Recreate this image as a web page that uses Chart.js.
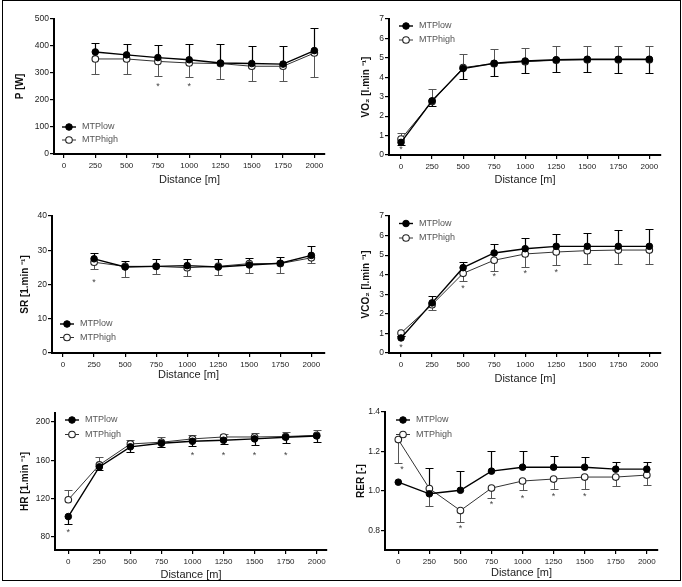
<!DOCTYPE html>
<html><head><meta charset="utf-8">
<script src="https://cdn.jsdelivr.net/npm/chart.js@4.4.1/dist/chart.umd.min.js"></script>
<style>
html,body{margin:0;padding:0;background:#fff;}
#wrap{position:relative;width:682px;height:587px;overflow:hidden;background:#fff;}
canvas{position:absolute;}
#frame{position:absolute;left:2px;top:0;width:677px;height:579px;border:1px solid #000;pointer-events:none;}
</style></head><body><div id="wrap">
<canvas id="c1"></canvas><canvas id="c2"></canvas><canvas id="c3"></canvas>
<canvas id="c4"></canvas><canvas id="c5"></canvas><canvas id="c6"></canvas>
<div id="frame"></div>
</div>
<script>
// ---------- DATA ----------
const seriesNames = ['MTPlow', 'MTPhigh'];
const distanceFull = [0, 250, 500, 750, 1000, 1250, 1500, 1750, 2000];
const distanceFrom250 = [250, 500, 750, 1000, 1250, 1500, 1750, 2000];
const xTicks = [0, 250, 500, 750, 1000, 1250, 1500, 1750, 2000];

// P [W]
const P_low = [378, 367, 357, 349, 337, 335, 333, 383];
const P_high = [352, 352, 343, 337, 335, 325, 325, 374];
const P_lowSD = [33, 40, 48, 60, 72, 65, 67, 84];
const P_highSD = [56, 56, 54, 53, 57, 53, 53, 90];
const P_sigX = [750, 1000];
const P_sigY = [257, 257];
const P_yTicks = [0, 100, 200, 300, 400, 500];

// VO2 [l.min-1]
const VO2_low = [0.65, 2.79, 4.45, 4.72, 4.84, 4.90, 4.93, 4.93, 4.93];
const VO2_high = [0.82, 2.75, 4.50, 4.70, 4.80, 4.88, 4.90, 4.90, 4.90];
const VO2_lowSD = [0.15, 0.27, 0.55, 0.67, 0.64, 0.62, 0.65, 0.73, 0.73];
const VO2_highSD = [0.32, 0.63, 0.70, 0.75, 0.70, 0.71, 0.69, 0.69, 0.69];
const VO2_sigX = [0];
const VO2_sigY = [0.36];
const VO2_yTicks = [0, 1, 2, 3, 4, 5, 6, 7];

// SR [1.min-1]
const SR_low = [27.5, 25.1, 25.3, 25.5, 25.1, 25.7, 26.2, 28.5];
const SR_high = [26.5, 25.3, 25.3, 24.9, 25.3, 26.1, 26.1, 27.8];
const SR_lowSD = [1.7, 1.7, 2.2, 2.0, 2.4, 2.1, 1.8, 2.8];
const SR_highSD = [2.0, 3.0, 2.2, 2.4, 2.5, 2.6, 2.7, 1.5];
const SR_sigX = [250];
const SR_sigY = [21.3];
const SR_yTicks = [0, 10, 20, 30, 40];

// VCO2 [l.min-1]
const VCO2_low = [0.77, 2.56, 4.36, 5.11, 5.33, 5.45, 5.45, 5.45, 5.45];
const VCO2_high = [1.02, 2.47, 4.07, 4.74, 5.06, 5.16, 5.23, 5.26, 5.26];
const VCO2_lowSD = [0.10, 0.34, 0.31, 0.44, 0.56, 0.65, 0.68, 0.82, 0.87];
const VCO2_highSD = [0.15, 0.26, 0.41, 0.53, 0.66, 0.65, 0.70, 0.73, 0.73];
const VCO2_sigX = [0, 500, 750, 1000, 1250];
const VCO2_sigY = [0.38, 3.38, 4.0, 4.14, 4.24];
const VCO2_yTicks = [0, 1, 2, 3, 4, 5, 6, 7];

// HR [1.min-1]
const HR_low = [101, 153, 174, 177.7, 179.8, 180.9, 182.3, 184, 185.4];
const HR_high = [118.6, 155.1, 177, 178.8, 182.3, 184.3, 184.3, 184.8, 186];
const HR_lowSD = [7.4, 3.4, 5, 4.1, 4.8, 3.9, 6, 6.3, 6.3];
const HR_highSD = [9.7, 8.4, 4.2, 5.5, 3.7, 3.2, 3.9, 4.8, 5.6];
const HR_sigX = [0, 1000, 1250, 1500, 1750];
const HR_sigY = [86.6, 167, 167, 167, 167];
const HR_yTicks = [80, 120, 160, 200];

// RER [-]
const RER_low = [1.044, 0.985, 1.003, 1.10, 1.12, 1.12, 1.12, 1.11, 1.11];
const RER_high = [1.26, 1.012, 0.90, 1.014, 1.05, 1.06, 1.07, 1.07, 1.08];
const RER_lowSD = [0, 0.13, 0.10, 0.10, 0.08, 0.056, 0.053, 0.037, 0.037];
const RER_highSD = [0.12, 0.09, 0.06, 0.05, 0.047, 0.05, 0.06, 0.045, 0.048];
const RER_sigX = [30, 500, 750, 1000, 1250, 1500];
const RER_sigY = [1.118, 0.82, 0.94, 0.972, 0.98, 0.98];
const RER_yTicks = [0.8, 1.0, 1.2, 1.4];

// ---------- STYLE / LAYOUT ----------
const FONT = "'Liberation Sans', Arial, Helvetica, sans-serif";
const LOW_COLOR = '#000';
const HIGH_COLOR = '#333';
const LOW_ERR = '#000';
const HIGH_ERR = '#555';

const panels = [
  { id:'c1', canvas:{l:0,t:0,w:341,h:196}, area:{L:54,R:325,T:19,B:154}, yTitleX:20, xTitleY:180,
    x:distanceFrom250, low:P_low, high:P_high, lowSD:P_lowSD, highSD:P_highSD, lowDir:1, highDir:-1,
    sigX:P_sigX, sigY:P_sigY, yTicks:P_yTicks, yMin:0, yMax:500, xMin:-80, xMax:2085, dec:0,
    yTitle:'P [W]', leg:{dx:15, dy:108, gap:13} },
  { id:'c2', canvas:{l:341,t:0,w:341,h:196}, area:{L:389,R:661,T:19,B:155}, yTitleX:366, xTitleY:180,
    x:distanceFull, low:VO2_low, high:VO2_high, lowSD:VO2_lowSD, highSD:VO2_highSD, lowDir:-1, highDir:1,
    sigX:VO2_sigX, sigY:VO2_sigY, yTicks:VO2_yTicks, yMin:0, yMax:7, xMin:-97, xMax:2094, dec:0,
    yTitle:'VO\u2082 [l.min \u207B\u00B9]', leg:{dx:17, dy:7, gap:14} },
  { id:'c3', canvas:{l:0,t:196,w:341,h:196}, area:{L:52,R:325,T:216,B:353}, yTitleX:25, xTitleY:375,
    x:distanceFrom250, low:SR_low, high:SR_high, lowSD:SR_lowSD, highSD:SR_highSD, lowDir:1, highDir:-1,
    sigX:SR_sigX, sigY:SR_sigY, yTicks:SR_yTicks, yMin:0, yMax:40, xMin:-89, xMax:2110, dec:0,
    yTitle:'SR [1.min \u207B\u00B9]', leg:{dx:15, dy:108, gap:13.5} },
  { id:'c4', canvas:{l:341,t:196,w:341,h:196}, area:{L:389,R:661,T:216,B:353}, yTitleX:366, xTitleY:379,
    x:distanceFull, low:VCO2_low, high:VCO2_high, lowSD:VCO2_lowSD, highSD:VCO2_highSD, lowDir:1, highDir:-1,
    sigX:VCO2_sigX, sigY:VCO2_sigY, yTicks:VCO2_yTicks, yMin:0, yMax:7, xMin:-97, xMax:2094, dec:0,
    yTitle:'VCO\u2082 [l.min \u207B\u00B9]', leg:{dx:17, dy:7.5, gap:14.5} },
  { id:'c5', canvas:{l:0,t:392,w:341,h:195}, area:{L:55,R:327,T:413,B:550}, yTitleX:25, xTitleY:575,
    x:distanceFull, low:HR_low, high:HR_high, lowSD:HR_lowSD, highSD:HR_highSD, lowDir:-1, highDir:1,
    sigX:HR_sigX, sigY:HR_sigY, yTicks:HR_yTicks, yMin:66, yMax:209.4, xMin:-107, xMax:2083, dec:0,
    yTitle:'HR [1.min \u207B\u00B9]', leg:{dx:17, dy:7, gap:14.5} },
  { id:'c6', canvas:{l:341,t:392,w:341,h:195}, area:{L:385,R:658,T:412,B:550}, yTitleX:361, xTitleY:573,
    x:distanceFull, low:RER_low, high:RER_high, lowSD:RER_lowSD, highSD:RER_highSD, lowDir:1, highDir:-1,
    sigX:RER_sigX, sigY:RER_sigY, yTicks:RER_yTicks, yMin:0.7, yMax:1.4, xMin:-107, xMax:2090, dec:1,
    yTitle:'RER [-]', leg:{dx:18, dy:8, gap:14.5} }
];

// ---------- PLUGINS ----------
const errorBars = {
  id:'errorBars',
  beforeDatasetsDraw(chart, args, o){
    const ctx = chart.ctx, xs = chart.scales.x, ys = chart.scales.y;
    (o.sets||[]).forEach(s=>{
      ctx.save(); ctx.strokeStyle = s.color; ctx.lineWidth = s.width;
      s.x.forEach((xv,i)=>{
        const d = s.sd[i]; if(!d) return;
        const px = Math.round(xs.getPixelForValue(xv))+0.5;
        const p0 = ys.getPixelForValue(s.mean[i]);
        const p1 = Math.round(ys.getPixelForValue(s.mean[i] + s.dir*d))+0.5;
        ctx.beginPath(); ctx.moveTo(px,p0); ctx.lineTo(px,p1);
        ctx.moveTo(px-s.cap,p1); ctx.lineTo(px+s.cap,p1); ctx.stroke();
      });
      ctx.restore();
    });
  }
};
const sigMarks = {
  id:'sigMarks',
  afterDatasetsDraw(chart, args, o){
    const ctx = chart.ctx, xs = chart.scales.x, ys = chart.scales.y;
    ctx.save(); ctx.fillStyle = '#444'; ctx.font = '9px ' + FONT;
    ctx.textAlign = 'center'; ctx.textBaseline = 'middle';
    (o.x||[]).forEach((xv,i)=>{
      ctx.fillText('*', xs.getPixelForValue(xv), ys.getPixelForValue(o.y[i]) + 2);
    });
    ctx.restore();
  }
};
const innerLegend = {
  id:'innerLegend',
  afterDraw(chart, args, o){
    const ctx = chart.ctx, a = chart.chartArea;
    ctx.save();
    chart.data.datasets.forEach((ds,i)=>{
      const cx = a.left + o.dx, cy = a.top + o.dy + i*o.gap;
      ctx.strokeStyle = ds.borderColor; ctx.lineWidth = ds.borderWidth;
      ctx.beginPath(); ctx.moveTo(cx-7, cy); ctx.lineTo(cx+7, cy); ctx.stroke();
      ctx.beginPath(); ctx.arc(cx, cy, ds.pointRadius, 0, Math.PI*2);
      ctx.fillStyle = ds.pointBackgroundColor; ctx.fill();
      ctx.lineWidth = ds.pointBorderWidth; ctx.strokeStyle = ds.pointBorderColor; ctx.stroke();
      ctx.fillStyle = '#555'; ctx.font = '9px ' + FONT; ctx.textAlign='left'; ctx.textBaseline='middle';
      ctx.fillText(ds.label, cx + 13, cy);
    });
    ctx.restore();
  }
};

// ---------- BUILD ----------
const Y_TITLE_LH = 12, X_TITLE_LH = 13.2, X_AXIS_H = 36;
panels.forEach(p=>{
  const cv = document.getElementById(p.id);
  cv.width = p.canvas.w; cv.height = p.canvas.h;
  cv.style.left = p.canvas.l + 'px'; cv.style.top = p.canvas.t + 'px';
  cv.style.width = p.canvas.w + 'px'; cv.style.height = p.canvas.h + 'px';
  const yW = p.area.L - p.canvas.l;
  const padTop = p.area.T - p.canvas.t;
  const padRight = p.canvas.l + p.canvas.w - p.area.R;
  const padBottom = p.canvas.t + p.canvas.h - p.area.B - X_AXIS_H;
  const yTitlePad = p.yTitleX - p.canvas.l - Y_TITLE_LH/2;
  const xTitlePad = (p.area.B + X_AXIS_H) - p.xTitleY - X_TITLE_LH/2;
  const pts = arr => p.x.map((xv,i)=>({x:xv, y:arr[i]}));
  const axisCommon = {
    type:'linear',
    grid:{display:true, drawOnChartArea:false, drawTicks:true, tickLength:4, color:'#000', lineWidth:1.2},
    border:{display:true, color:'#000', width:2},
  };
  new Chart(cv, {
    type:'line',
    data:{ datasets:[
      { label:seriesNames[0], data:pts(p.low), borderColor:LOW_COLOR, borderWidth:1.4,
        pointRadius:3.3, pointBackgroundColor:'#000', pointBorderColor:'#000', pointBorderWidth:1, tension:0 },
      { label:seriesNames[1], data:pts(p.high), borderColor:HIGH_COLOR, borderWidth:1,
        pointRadius:3.3, pointBackgroundColor:'#fff', pointBorderColor:'#222', pointBorderWidth:1.1, tension:0 }
    ]},
    options:{
      responsive:false, animation:false, devicePixelRatio:1,
      layout:{ padding:{ left:0, top:padTop, right:padRight, bottom:padBottom } },
      plugins:{
        legend:{display:false}, tooltip:{enabled:false},
        errorBars:{ sets:[
          { x:p.x, mean:p.high, sd:p.highSD, dir:p.highDir, color:HIGH_ERR, width:1, cap:4 },
          { x:p.x, mean:p.low, sd:p.lowSD, dir:p.lowDir, color:LOW_ERR, width:1.2, cap:4 }
        ]},
        sigMarks:{ x:p.sigX, y:p.sigY },
        innerLegend:p.leg
      },
      scales:{
        x:Object.assign({}, axisCommon, {
          position:'bottom', min:p.xMin, max:p.xMax,
          afterBuildTicks:s=>{ s.ticks = xTicks.map(v=>({value:v})); },
          afterFit:s=>{ s.height = X_AXIS_H; },
          ticks:{ font:{family:FONT, size:8}, color:'#222', padding:3, maxRotation:0, autoSkip:false,
                  callback:v=>String(v) },
          title:{ display:true, text:'Distance [m]', color:'#222', font:{family:FONT, size:11},
                  padding:{top:0, bottom:xTitlePad} }
        }),
        y:Object.assign({}, axisCommon, {
          position:'left', min:p.yMin, max:p.yMax,
          afterBuildTicks:s=>{ s.ticks = p.yTicks.map(v=>({value:v})); },
          afterFit:s=>{ s.width = yW; },
          ticks:{ font:{family:FONT, size:8.5}, color:'#222', padding:1, callback:v=>v.toFixed(p.dec) },
          title:{ display:true, text:p.yTitle, color:'#111', font:{family:FONT, size:10, weight:'bold'},
                  padding:{top:yTitlePad, bottom:0} }
        })
      }
    },
    plugins:[errorBars, sigMarks, innerLegend]
  });
});
</script>
</body></html>
